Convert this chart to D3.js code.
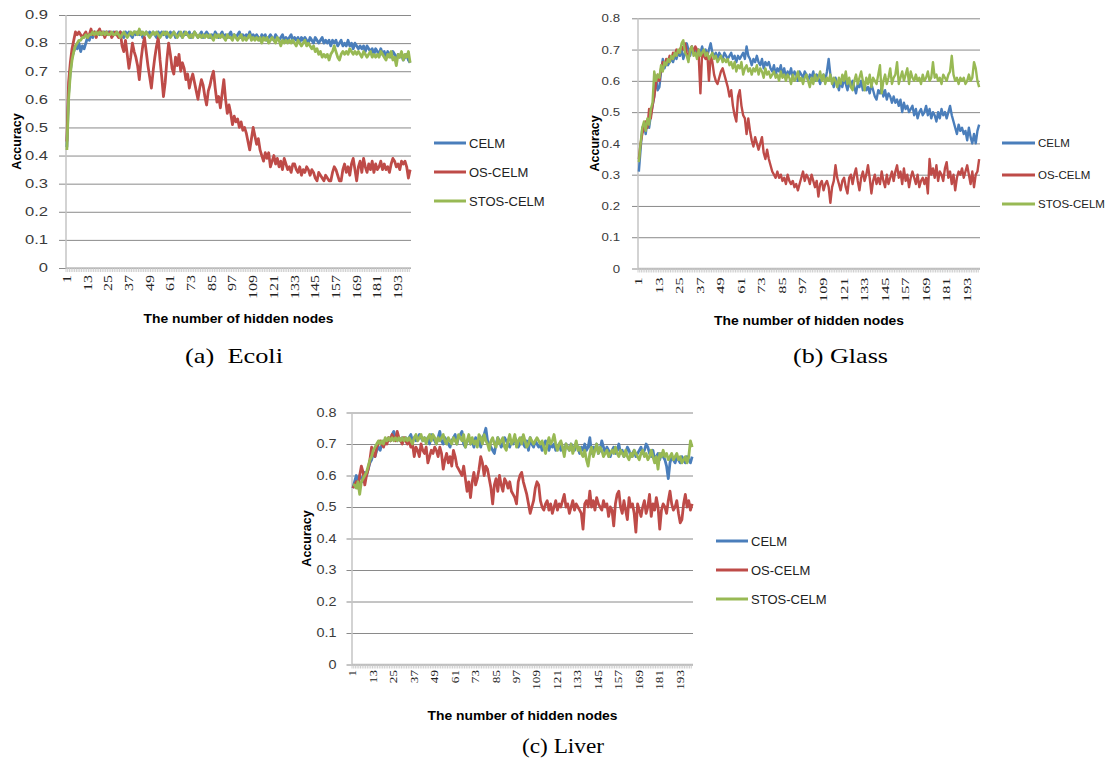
<!DOCTYPE html>
<html>
<head>
<meta charset="utf-8">
<script src="https://cdn.jsdelivr.net/npm/d3@7"></script>
<style>
  body { margin: 0; background: #fff; }
  svg { display: block; }
</style>
</head>
<body>
<svg id="chart" width="1119" height="760"></svg>
<script>
// categories: number of hidden nodes
const nodes = d3.range(1, 201);
const tickNodes = [1, 13, 25, 37, 49, 61, 73, 85, 97, 109, 121, 133, 145, 157, 169, 181, 193];
const seriesNames = ["CELM", "OS-CELM", "STOS-CELM"];
const seriesColors = ["#4a7ebb", "#be4b48", "#98b954"];

const ecoliTicks = [0, 0.1, 0.2, 0.3, 0.4, 0.5, 0.6, 0.7, 0.8, 0.9];
const glassTicks = [0, 0.1, 0.2, 0.3, 0.4, 0.5, 0.6, 0.7, 0.8];
const liverTicks = [0, 0.1, 0.2, 0.3, 0.4, 0.5, 0.6, 0.7, 0.8];

// (a) Ecoli
const ecoliCELM = [
  0.43,0.62,0.70,0.75,0.77,0.79,0.78,0.80,0.77,0.79, 0.78,0.80,0.82,0.81,0.83,0.82,0.84,0.83,0.84,0.83,
  0.84,0.83,0.84,0.83,0.84,0.84,0.83,0.84,0.83,0.84, 0.83,0.84,0.83,0.82,0.84,0.83,0.84,0.83,0.82,0.84,
  0.83,0.84,0.83,0.84,0.82,0.83,0.84,0.83,0.84,0.83, 0.84,0.83,0.82,0.84,0.83,0.84,0.83,0.84,0.82,0.83,
  0.84,0.83,0.84,0.82,0.83,0.84,0.83,0.82,0.84,0.83, 0.83,0.84,0.82,0.83,0.84,0.83,0.82,0.83,0.84,0.82,
  0.83,0.84,0.83,0.82,0.83,0.82,0.84,0.83,0.82,0.83, 0.84,0.82,0.83,0.82,0.83,0.84,0.82,0.83,0.82,0.83,
  0.84,0.82,0.83,0.82,0.83,0.82,0.84,0.82,0.83,0.82, 0.83,0.82,0.81,0.83,0.82,0.83,0.81,0.82,0.83,0.82,
  0.81,0.83,0.82,0.81,0.82,0.83,0.81,0.82,0.81,0.82, 0.83,0.81,0.82,0.81,0.82,0.80,0.82,0.81,0.82,0.81,
  0.80,0.82,0.81,0.80,0.82,0.81,0.80,0.81,0.82,0.80, 0.81,0.80,0.81,0.79,0.81,0.80,0.81,0.79,0.80,0.81,
  0.79,0.80,0.79,0.81,0.79,0.80,0.78,0.80,0.79,0.78, 0.79,0.78,0.79,0.77,0.79,0.78,0.77,0.78,0.76,0.78,
  0.77,0.76,0.78,0.76,0.77,0.75,0.77,0.76,0.75,0.77, 0.76,0.74,0.76,0.75,0.76,0.74,0.75,0.76,0.74,0.73
];
const ecoliOS = [
  0.45,0.66,0.73,0.78,0.81,0.84,0.83,0.84,0.83,0.82, 0.83,0.84,0.82,0.83,0.85,0.83,0.84,0.82,0.84,0.85,
  0.83,0.84,0.82,0.84,0.83,0.84,0.82,0.83,0.84,0.83, 0.82,0.84,0.79,0.77,0.81,0.76,0.71,0.75,0.80,0.77,
  0.75,0.72,0.67,0.74,0.79,0.82,0.77,0.72,0.68,0.64, 0.70,0.75,0.79,0.82,0.74,0.68,0.61,0.66,0.74,0.80,
  0.76,0.71,0.69,0.75,0.72,0.76,0.70,0.73,0.71,0.67, 0.69,0.64,0.67,0.69,0.66,0.63,0.60,0.64,0.67,0.65,
  0.61,0.58,0.63,0.65,0.68,0.70,0.64,0.59,0.61,0.57, 0.62,0.67,0.60,0.55,0.58,0.55,0.51,0.54,0.52,0.53,
  0.50,0.52,0.49,0.50,0.48,0.45,0.42,0.46,0.50,0.47, 0.44,0.46,0.42,0.40,0.38,0.41,0.39,0.41,0.36,0.38,
  0.40,0.37,0.39,0.36,0.38,0.35,0.39,0.37,0.35,0.36, 0.34,0.37,0.37,0.35,0.34,0.36,0.33,0.35,0.34,0.36,
  0.35,0.33,0.35,0.34,0.32,0.31,0.34,0.33,0.32,0.31, 0.33,0.32,0.31,0.31,0.34,0.36,0.35,0.33,0.31,0.31,
  0.35,0.37,0.34,0.36,0.33,0.37,0.39,0.35,0.31,0.36, 0.38,0.34,0.39,0.36,0.34,0.37,0.35,0.38,0.34,0.37,
  0.35,0.36,0.38,0.35,0.37,0.35,0.36,0.34,0.37,0.39, 0.38,0.36,0.37,0.35,0.38,0.37,0.38,0.36,0.32,0.35
];
const ecoliSTOS = [
  0.42,0.60,0.69,0.74,0.77,0.79,0.80,0.81,0.81,0.82, 0.82,0.83,0.82,0.83,0.83,0.84,0.83,0.84,0.83,0.84,
  0.83,0.84,0.83,0.84,0.83,0.83,0.84,0.83,0.83,0.84, 0.83,0.82,0.83,0.84,0.83,0.82,0.83,0.84,0.83,0.84,
  0.84,0.83,0.85,0.83,0.84,0.83,0.84,0.83,0.82,0.83, 0.84,0.83,0.84,0.83,0.82,0.83,0.84,0.83,0.84,0.83,
  0.82,0.83,0.84,0.83,0.82,0.83,0.84,0.82,0.83,0.84, 0.83,0.82,0.83,0.82,0.84,0.83,0.82,0.83,0.82,0.83,
  0.82,0.83,0.82,0.83,0.82,0.81,0.83,0.82,0.83,0.82, 0.83,0.82,0.81,0.83,0.82,0.82,0.81,0.83,0.82,0.81,
  0.82,0.83,0.81,0.82,0.81,0.82,0.83,0.81,0.82,0.81, 0.82,0.81,0.82,0.80,0.82,0.81,0.82,0.80,0.81,0.82,
  0.81,0.80,0.82,0.81,0.79,0.81,0.80,0.81,0.80,0.81, 0.80,0.81,0.80,0.79,0.81,0.80,0.79,0.80,0.81,0.79,
  0.80,0.79,0.78,0.79,0.77,0.78,0.76,0.77,0.75,0.76, 0.75,0.76,0.74,0.76,0.77,0.79,0.77,0.75,0.74,0.76,
  0.77,0.76,0.77,0.76,0.78,0.77,0.76,0.77,0.76,0.77, 0.76,0.75,0.77,0.76,0.75,0.76,0.77,0.75,0.76,0.75,
  0.76,0.75,0.77,0.76,0.75,0.74,0.76,0.75,0.77,0.74, 0.75,0.72,0.76,0.75,0.77,0.74,0.76,0.75,0.77,0.73
];

// (b) Glass
const glassCELM = [
  0.31,0.38,0.45,0.46,0.43,0.47,0.45,0.49,0.52,0.55, 0.61,0.57,0.58,0.63,0.67,0.64,0.66,0.65,0.66,0.67,
  0.66,0.68,0.67,0.69,0.68,0.70,0.67,0.69,0.72,0.70, 0.68,0.71,0.69,0.70,0.68,0.70,0.69,0.71,0.69,0.70,
  0.68,0.70,0.72,0.69,0.68,0.69,0.67,0.69,0.68,0.67, 0.69,0.68,0.67,0.68,0.69,0.67,0.68,0.66,0.68,0.67,
  0.68,0.69,0.67,0.71,0.68,0.67,0.65,0.67,0.66,0.68, 0.66,0.65,0.67,0.64,0.66,0.65,0.66,0.64,0.63,0.65,
  0.62,0.64,0.63,0.65,0.62,0.64,0.61,0.63,0.62,0.64, 0.61,0.63,0.62,0.60,0.63,0.62,0.61,0.63,0.62,0.60,
  0.62,0.61,0.63,0.60,0.62,0.61,0.59,0.61,0.62,0.60, 0.63,0.67,0.62,0.60,0.58,0.61,0.59,0.57,0.60,0.58,
  0.61,0.59,0.57,0.60,0.58,0.60,0.58,0.56,0.59,0.58, 0.60,0.57,0.59,0.57,0.58,0.56,0.59,0.57,0.55,0.54,
  0.57,0.56,0.58,0.55,0.57,0.54,0.56,0.55,0.53,0.55, 0.53,0.54,0.52,0.54,0.50,0.53,0.51,0.52,0.50,0.51,
  0.52,0.49,0.51,0.48,0.50,0.51,0.49,0.50,0.52,0.49, 0.51,0.48,0.50,0.49,0.47,0.50,0.48,0.51,0.49,0.50,
  0.48,0.50,0.52,0.49,0.47,0.45,0.43,0.46,0.44,0.45, 0.43,0.44,0.41,0.45,0.42,0.40,0.43,0.40,0.44,0.46
];
const glassOS = [
  0.35,0.40,0.43,0.45,0.47,0.45,0.51,0.48,0.52,0.55, 0.59,0.62,0.60,0.64,0.66,0.65,0.67,0.66,0.68,0.67,
  0.69,0.68,0.70,0.69,0.70,0.71,0.70,0.72,0.69,0.67, 0.70,0.71,0.69,0.71,0.70,0.68,0.56,0.69,0.68,0.67,
  0.69,0.60,0.68,0.66,0.62,0.60,0.59,0.61,0.63,0.64, 0.62,0.60,0.58,0.55,0.57,0.52,0.49,0.47,0.55,0.57,
  0.52,0.49,0.48,0.43,0.48,0.44,0.41,0.39,0.42,0.40, 0.38,0.40,0.42,0.37,0.35,0.38,0.35,0.33,0.31,0.30,
  0.29,0.31,0.29,0.30,0.28,0.29,0.27,0.30,0.28,0.27, 0.28,0.26,0.27,0.25,0.27,0.29,0.31,0.28,0.30,0.29,
  0.27,0.30,0.28,0.26,0.28,0.23,0.27,0.28,0.25,0.27, 0.28,0.26,0.21,0.26,0.28,0.33,0.29,0.27,0.25,0.28,
  0.29,0.26,0.24,0.29,0.30,0.27,0.30,0.32,0.28,0.25, 0.29,0.31,0.28,0.30,0.33,0.29,0.24,0.28,0.30,0.27,
  0.29,0.27,0.31,0.28,0.26,0.30,0.27,0.29,0.31,0.28, 0.31,0.33,0.29,0.31,0.27,0.32,0.28,0.30,0.26,0.29,
  0.31,0.29,0.27,0.30,0.26,0.28,0.29,0.27,0.29,0.24, 0.35,0.30,0.32,0.29,0.33,0.28,0.31,0.30,0.28,0.32,
  0.34,0.29,0.31,0.27,0.30,0.25,0.29,0.31,0.30,0.32, 0.29,0.31,0.33,0.30,0.27,0.31,0.26,0.30,0.31,0.35
];
const glassSTOS = [
  0.34,0.40,0.45,0.47,0.44,0.48,0.46,0.51,0.53,0.63, 0.60,0.62,0.61,0.65,0.63,0.66,0.65,0.67,0.66,0.68,
  0.67,0.69,0.68,0.70,0.69,0.72,0.73,0.69,0.68,0.66, 0.70,0.71,0.68,0.69,0.67,0.70,0.68,0.69,0.70,0.68,
  0.69,0.67,0.68,0.69,0.67,0.68,0.66,0.67,0.68,0.66, 0.67,0.66,0.67,0.65,0.66,0.64,0.66,0.63,0.65,0.64,
  0.66,0.62,0.64,0.65,0.63,0.64,0.62,0.64,0.63,0.65, 0.62,0.64,0.63,0.61,0.64,0.62,0.63,0.61,0.62,0.63,
  0.61,0.62,0.60,0.63,0.61,0.62,0.60,0.62,0.61,0.59, 0.62,0.60,0.61,0.63,0.60,0.61,0.59,0.61,0.62,0.60,
  0.58,0.61,0.59,0.62,0.60,0.61,0.63,0.60,0.62,0.59, 0.61,0.60,0.62,0.59,0.61,0.60,0.58,0.61,0.59,0.62,
  0.60,0.63,0.59,0.61,0.58,0.57,0.60,0.62,0.59,0.61, 0.63,0.60,0.57,0.61,0.59,0.62,0.58,0.61,0.60,0.59,
  0.62,0.65,0.56,0.60,0.62,0.59,0.61,0.64,0.59,0.61, 0.62,0.66,0.59,0.61,0.63,0.60,0.62,0.64,0.59,0.63,
  0.61,0.60,0.62,0.60,0.61,0.59,0.62,0.60,0.61,0.63, 0.60,0.61,0.66,0.61,0.62,0.60,0.61,0.59,0.62,0.61,
  0.60,0.62,0.63,0.68,0.62,0.60,0.61,0.59,0.61,0.60, 0.61,0.59,0.60,0.62,0.60,0.61,0.66,0.64,0.60,0.58
];

// (c) Liver
const liverCELM = [
  0.56,0.58,0.60,0.58,0.60,0.59,0.58,0.61,0.60,0.62, 0.64,0.65,0.67,0.66,0.68,0.69,0.68,0.70,0.71,0.70,
  0.71,0.72,0.71,0.73,0.74,0.72,0.71,0.72,0.71,0.72, 0.71,0.72,0.71,0.72,0.73,0.71,0.72,0.71,0.72,0.73,
  0.72,0.71,0.72,0.71,0.72,0.70,0.73,0.72,0.71,0.70, 0.72,0.74,0.71,0.70,0.72,0.71,0.70,0.69,0.71,0.72,
  0.73,0.70,0.72,0.73,0.74,0.70,0.69,0.71,0.72,0.70, 0.71,0.69,0.72,0.70,0.71,0.69,0.72,0.73,0.75,0.71,
  0.70,0.69,0.68,0.67,0.70,0.72,0.71,0.69,0.70,0.72, 0.71,0.70,0.69,0.71,0.70,0.72,0.71,0.69,0.70,0.72,
  0.70,0.69,0.71,0.68,0.72,0.70,0.69,0.71,0.70,0.69, 0.70,0.68,0.69,0.71,0.70,0.68,0.70,0.69,0.70,0.68,
  0.69,0.70,0.68,0.69,0.67,0.70,0.69,0.68,0.70,0.69, 0.68,0.70,0.69,0.67,0.69,0.68,0.70,0.68,0.69,0.72,
  0.67,0.69,0.68,0.70,0.67,0.68,0.71,0.69,0.67,0.69, 0.68,0.66,0.68,0.69,0.67,0.68,0.70,0.67,0.68,0.66,
  0.67,0.69,0.68,0.66,0.67,0.68,0.66,0.67,0.68,0.69, 0.67,0.68,0.70,0.69,0.67,0.66,0.68,0.65,0.66,0.67,
  0.65,0.67,0.66,0.65,0.63,0.59,0.64,0.66,0.65,0.64, 0.66,0.65,0.64,0.66,0.65,0.64,0.66,0.65,0.64,0.66
];
const liverOS = [
  0.56,0.57,0.58,0.56,0.60,0.63,0.61,0.57,0.60,0.62, 0.65,0.69,0.67,0.66,0.69,0.70,0.71,0.70,0.69,0.71,
  0.70,0.72,0.71,0.73,0.72,0.71,0.74,0.72,0.71,0.70, 0.72,0.71,0.70,0.71,0.69,0.70,0.66,0.69,0.68,0.66,
  0.70,0.68,0.67,0.69,0.64,0.66,0.68,0.67,0.69,0.68, 0.66,0.69,0.67,0.62,0.65,0.67,0.64,0.66,0.63,0.68,
  0.66,0.63,0.62,0.61,0.60,0.63,0.59,0.55,0.58,0.53, 0.58,0.61,0.57,0.59,0.62,0.66,0.64,0.60,0.63,0.62,
  0.59,0.56,0.51,0.57,0.59,0.55,0.60,0.57,0.55,0.59, 0.58,0.56,0.58,0.55,0.54,0.53,0.51,0.58,0.60,0.61,
  0.58,0.56,0.54,0.51,0.48,0.50,0.52,0.56,0.58,0.57, 0.52,0.50,0.49,0.51,0.52,0.49,0.51,0.48,0.50,0.52,
  0.49,0.51,0.50,0.52,0.54,0.50,0.51,0.48,0.50,0.52, 0.49,0.51,0.50,0.49,0.48,0.43,0.51,0.52,0.50,0.55,
  0.50,0.52,0.49,0.53,0.51,0.50,0.49,0.52,0.50,0.51, 0.47,0.50,0.49,0.44,0.51,0.54,0.55,0.50,0.48,0.52,
  0.49,0.46,0.53,0.50,0.51,0.48,0.42,0.51,0.49,0.47, 0.50,0.52,0.48,0.50,0.54,0.47,0.51,0.49,0.53,0.50,
  0.43,0.49,0.51,0.50,0.48,0.52,0.55,0.51,0.49,0.50, 0.52,0.48,0.45,0.46,0.51,0.54,0.50,0.52,0.49,0.51
];
const liverSTOS = [
  0.57,0.57,0.56,0.58,0.54,0.58,0.59,0.60,0.61,0.63, 0.65,0.66,0.68,0.69,0.70,0.71,0.70,0.71,0.70,0.72,
  0.71,0.72,0.71,0.72,0.71,0.72,0.71,0.72,0.71,0.72, 0.71,0.72,0.71,0.72,0.71,0.70,0.72,0.73,0.71,0.72,
  0.73,0.71,0.72,0.70,0.72,0.73,0.71,0.73,0.72,0.70, 0.72,0.71,0.72,0.73,0.71,0.70,0.72,0.71,0.70,0.72,
  0.71,0.70,0.73,0.72,0.71,0.73,0.69,0.71,0.73,0.70, 0.72,0.70,0.71,0.69,0.73,0.72,0.70,0.73,0.71,0.70,
  0.68,0.71,0.72,0.70,0.69,0.72,0.70,0.71,0.72,0.69, 0.68,0.71,0.73,0.70,0.71,0.73,0.69,0.71,0.72,0.70,
  0.73,0.71,0.69,0.70,0.72,0.71,0.70,0.71,0.72,0.71, 0.70,0.71,0.69,0.67,0.70,0.72,0.70,0.71,0.73,0.70,
  0.68,0.70,0.71,0.69,0.66,0.70,0.69,0.68,0.70,0.67, 0.69,0.71,0.68,0.69,0.67,0.66,0.68,0.65,0.63,0.67,
  0.69,0.66,0.68,0.70,0.67,0.69,0.68,0.66,0.67,0.68, 0.66,0.67,0.68,0.67,0.69,0.67,0.66,0.68,0.67,0.66,
  0.68,0.66,0.65,0.67,0.66,0.68,0.67,0.66,0.65,0.67, 0.68,0.66,0.67,0.65,0.66,0.68,0.66,0.64,0.66,0.62,
  0.67,0.66,0.68,0.66,0.67,0.65,0.66,0.67,0.65,0.66, 0.67,0.65,0.66,0.64,0.65,0.66,0.64,0.66,0.71,0.69
];

const svg = d3.select("#chart");

function stretch(sel, k) {
  // wide tick/label glyphs like in the source picture
  sel.each(function () {
    const w = this.getComputedTextLength();
    d3.select(this).attr("textLength", w * k).attr("lengthAdjust", "spacingAndGlyphs");
  });
}

function drawPanel(p) {
  const g = svg.append("g");
  const x = d3.scaleBand().domain(nodes).range([p.left, p.right]);
  const y = d3.scaleLinear().domain([0, p.yMax]).range([p.bottom, p.top]);
  const cx = n => x(n) + x.bandwidth() / 2;

  // gridlines + y labels
  const yAxis = g.append("g")
    .attr("transform", `translate(${p.right},0)`)
    .call(d3.axisLeft(y).tickValues(p.yTicks)
      .tickSize(p.right - p.left + p.tickOut)
      .tickPadding(p.yPad)
      .tickFormat(d => d === 0 ? "0" : d3.format(".1f")(d)));
  yAxis.select(".domain").remove();
  yAxis.selectAll("line").attr("stroke", "#8a8a8a").attr("stroke-width", 1);
  yAxis.selectAll("text")
    .attr("fill", "#3a3a3a")
    .style("font-family", "'Liberation Sans', Arial, sans-serif")
    .style("font-size", p.yFont + "px")
    .call(stretch, p.yStretch);

  // y axis line
  g.append("line")
    .attr("x1", p.left).attr("x2", p.left)
    .attr("y1", p.top).attr("y2", p.bottom)
    .attr("stroke", "#c4c4c4").attr("stroke-width", 1.5);

  // category axis with a tick between every category
  g.append("line")
    .attr("x1", p.left).attr("x2", p.right)
    .attr("y1", p.bottom).attr("y2", p.bottom)
    .attr("stroke", "#bdbdbd").attr("stroke-width", 1.5);
  g.selectAll(".ctick").data(nodes).join("line")
    .attr("class", "ctick")
    .attr("x1", d => x(d)).attr("x2", d => x(d))
    .attr("y1", p.bottom).attr("y2", p.bottom + 4)
    .attr("stroke", "#c8c8c8").attr("stroke-width", 0.9);

  const xAxis = g.append("g")
    .attr("transform", `translate(0,${p.bottom})`)
    .call(d3.axisBottom(x).tickValues(tickNodes).tickSize(0));
  xAxis.select(".domain").remove();
  xAxis.selectAll("text")
    .attr("transform", "rotate(-90)")
    .attr("text-anchor", "end")
    .attr("x", -p.xOff).attr("y", 0).attr("dy", "0.33em")
    .attr("fill", "#222")
    .style("font-family", "'Liberation Serif', 'Times New Roman', serif")
    .style("font-size", p.xFont + "px")
    .call(stretch, p.xStretch);

  // series
  const line = d3.line().x((d, i) => cx(nodes[i])).y(d => y(d));
  p.series.forEach((s, i) => {
    g.append("path")
      .datum(s)
      .attr("fill", "none")
      .attr("stroke", seriesColors[i])
      .attr("stroke-width", p.lineW)
      .attr("stroke-linejoin", "round")
      .attr("d", line);
  });

  // legend
  const leg = g.append("g");
  seriesNames.forEach((name, i) => {
    leg.append("line")
      .attr("x1", p.legX).attr("x2", p.legX + p.legLen)
      .attr("y1", p.legY[i]).attr("y2", p.legY[i])
      .attr("stroke", seriesColors[i]).attr("stroke-width", 3);
    leg.append("text")
      .attr("x", p.legX + p.legLen + 3).attr("y", p.legY[i])
      .attr("dy", "0.35em")
      .attr("fill", "#222")
      .style("font-family", "'Liberation Sans', Arial, sans-serif")
      .style("font-size", p.legFont + "px")
      .text(name);
  });

  // axis titles
  g.append("text")
    .attr("x", (p.left + p.right) / 2).attr("y", p.xTitleY)
    .attr("text-anchor", "middle")
    .attr("textLength", 190).attr("lengthAdjust", "spacingAndGlyphs")
    .style("font-family", "'Liberation Sans', Arial, sans-serif")
    .style("font-size", "13px").style("font-weight", "bold")
    .text("The number of hidden nodes");
  g.append("text")
    .attr("transform", `translate(${p.yTitleX},${(p.top + p.bottom) / 2}) rotate(-90)`)
    .attr("text-anchor", "middle").attr("dy", "0.35em")
    .style("font-family", "'Liberation Sans', Arial, sans-serif")
    .style("font-size", "12.5px").style("font-weight", "bold")
    .text("Accuracy");

  // caption
  g.append("text")
    .attr("x", p.capX).attr("y", p.capY)
    .attr("textLength", p.capW).attr("lengthAdjust", "spacingAndGlyphs")
    .style("white-space", "pre")
    .style("font-family", "'Liberation Serif', 'Times New Roman', serif")
    .style("font-size", "22px")
    .text(p.caption);
}

drawPanel({
  left: 66, right: 411, top: 15, bottom: 268, yMax: 0.9, yTicks: ecoliTicks,
  tickOut: 7, yPad: 11, yFont: 12, yStretch: 1.38,
  xOff: 7, xFont: 12, xStretch: 1.33, lineW: 2.8,
  series: [ecoliCELM, ecoliOS, ecoliSTOS],
  legX: 434, legLen: 32, legY: [143, 172, 201], legFont: 13,
  xTitleY: 323, yTitleX: 17,
  caption: "(a)  Ecoli", capX: 185, capY: 363, capW: 98
});

drawPanel({
  left: 638, right: 980, top: 18.3, bottom: 268.5, yMax: 0.8, yTicks: glassTicks,
  tickOut: 6, yPad: 12, yFont: 11.5, yStretch: 1.15,
  xOff: 9, xFont: 10.5, xStretch: 1.55, lineW: 2.4,
  series: [glassCELM, glassOS, glassSTOS],
  legX: 1002, legLen: 33, legY: [143, 175, 204], legFont: 11.5,
  xTitleY: 325, yTitleX: 595,
  caption: "(b) Glass", capX: 793, capY: 363, capW: 95
});

drawPanel({
  left: 352, right: 693, top: 412.5, bottom: 664.5, yMax: 0.8, yTicks: liverTicks,
  tickOut: 5.5, yPad: 10, yFont: 12, yStretch: 1.2,
  xOff: 5.5, xFont: 10.5, xStretch: 1.25, lineW: 2.8,
  series: [liverCELM, liverOS, liverSTOS],
  legX: 716, legLen: 32, legY: [541, 570, 599], legFont: 13,
  xTitleY: 720, yTitleX: 307,
  caption: "(c) Liver", capX: 522, capY: 753, capW: 82
});
</script>
</body>
</html>
